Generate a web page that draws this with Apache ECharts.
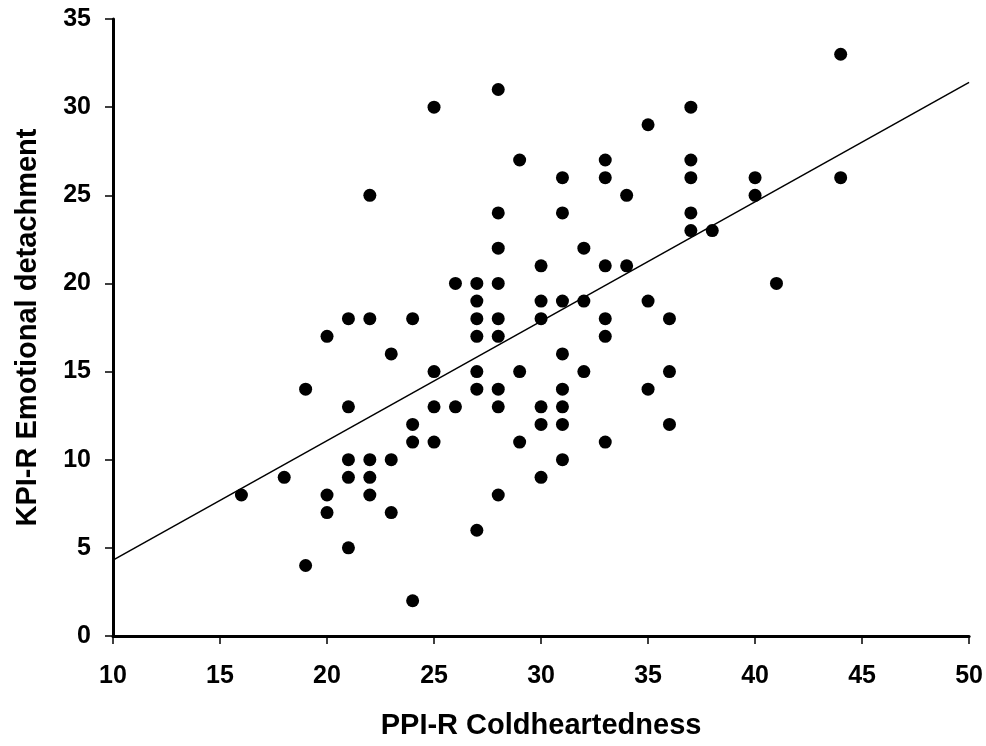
<!DOCTYPE html>
<html>
<head>
<meta charset="utf-8">
<script src="https://cdn.jsdelivr.net/npm/echarts@6/dist/echarts.min.js"></script>
<style>
  html, body { margin: 0; padding: 0; background: #fff; }
  #chart { width: 986px; height: 746px; }
</style>
</head>
<body>
<div id="chart"></div>
<script>
// PPI-R Coldheartedness scores (x) and KPI-R Emotional detachment scores (y)
const coldheartedness = [
  16, 18, 19, 19, 20, 20, 20,
  21, 21, 21, 21, 21,
  22, 22, 22, 22, 22,
  23, 23, 23,
  24, 24, 24, 24,
  25, 25, 25, 25,
  26, 26,
  27, 27, 27, 27, 27, 27, 27,
  28, 28, 28, 28, 28, 28, 28, 28, 28,
  29, 29, 29,
  30, 30, 30, 30, 30, 30,
  31, 31, 31, 31, 31, 31, 31, 31,
  32, 32, 32,
  33, 33, 33, 33, 33, 33,
  34, 34,
  35, 35, 35,
  36, 36, 36,
  37, 37, 37, 37, 37,
  38,
  40, 40,
  41,
  44, 44
];
const emotionalDetachment = [
  8, 9, 14, 4, 17, 8, 7,
  18, 13, 10, 9, 5,
  25, 18, 10, 9, 8,
  16, 10, 7,
  18, 12, 11, 2,
  30, 15, 13, 11,
  20, 13,
  20, 19, 18, 17, 15, 14, 6,
  31, 24, 22, 20, 18, 17, 14, 13, 8,
  27, 15, 11,
  21, 19, 18, 13, 12, 9,
  26, 24, 19, 16, 14, 13, 12, 10,
  22, 19, 15,
  27, 26, 21, 18, 17, 11,
  25, 21,
  29, 19, 14,
  18, 15, 12,
  30, 27, 26, 24, 23,
  23,
  26, 25,
  20,
  33, 26
];

// Fitted regression line, given by its values at the ends of the x range
const fitX = [10, 50];
const fitY = [4.3, 31.4];

const xTitle = 'PPI-R Coldheartedness';
const yTitle = 'KPI-R Emotional detachment';

const points = coldheartedness.map((x, i) => [x, emotionalDetachment[i]]);
const fitLine = fitX.map((x, i) => [x, fitY[i]]);

const font = 'Liberation Sans, Arial, Helvetica, sans-serif';

const chart = echarts.init(document.getElementById('chart'), null, { renderer: 'canvas' });
chart.setOption({
  animation: false,
  backgroundColor: '#ffffff',
  grid: { left: 113, right: 14, top: 19, bottom: 110, containLabel: false },
  xAxis: {
    type: 'value',
    min: 10,
    max: 50,
    interval: 5,
    name: xTitle,
    nameLocation: 'middle',
    nameGap: 75,
    nameTextStyle: { fontFamily: font, fontWeight: 'bold', fontSize: 29, color: '#000' },
    axisLine: { show: true, onZero: false, lineStyle: { color: '#000', width: 3 } },
    axisTick: { show: true, inside: false, length: 8, lineStyle: { color: '#000', width: 1.5 } },
    axisLabel: { margin: 28, fontFamily: font, fontWeight: 'bold', fontSize: 25, color: '#000' },
    splitLine: { show: false }
  },
  yAxis: {
    type: 'value',
    min: 0,
    max: 35,
    interval: 5,
    name: yTitle,
    nameLocation: 'middle',
    nameGap: 71,
    nameTextStyle: { fontFamily: font, fontWeight: 'bold', fontSize: 29, color: '#000' },
    axisLine: { show: true, onZero: false, lineStyle: { color: '#000', width: 3 } },
    axisTick: { show: true, inside: false, length: 8, lineStyle: { color: '#000', width: 1.5 } },
    axisLabel: { margin: 22, fontFamily: font, fontWeight: 'bold', fontSize: 25, color: '#000' },
    splitLine: { show: false }
  },
  series: [
    {
      type: 'line',
      data: fitLine,
      showSymbol: false,
      lineStyle: { color: '#000', width: 1.5 },
      z: 1
    },
    {
      type: 'scatter',
      data: points,
      symbol: 'circle',
      symbolSize: 13,
      itemStyle: { color: '#000', opacity: 1 },
      z: 2
    }
  ]
});
</script>
</body>
</html>
